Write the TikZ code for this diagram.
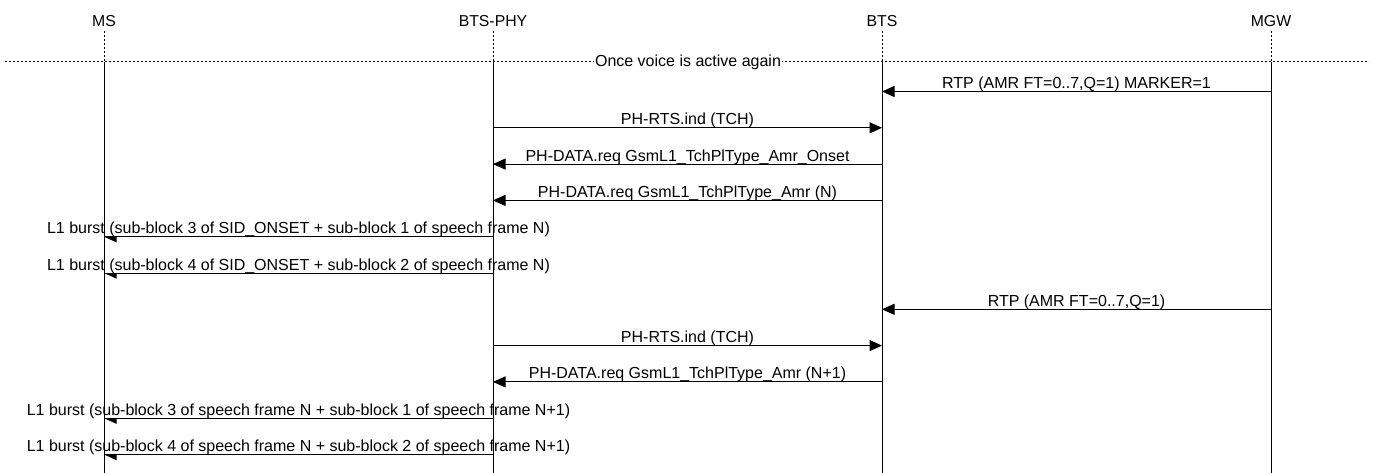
\documentclass[tikz,border=0pt]{standalone}
\usepackage{fontspec}
\setmainfont{Liberation Sans}
\usetikzlibrary{arrows.meta}

\tikzset{
  entity/.style={inner sep=1pt, font=\fontsize{15.8pt}{16pt}\selectfont},
  lifeline/.style={line width=1pt, black},
  dotline/.style={line width=1pt, black, dash pattern=on 2pt off 2pt},
  msg/.style={line width=1pt, black, -{Triangle[length=12.5pt, width=11pt]}},
  msglabel/.style={midway, anchor=base, yshift=3pt, fill=white, inner xsep=1pt, inner ysep=2.5pt, text depth=0pt, font=\fontsize{16pt}{16pt}\selectfont},
  seplabel/.style={fill=white, inner xsep=1pt, inner ysep=1pt, font=\fontsize{16pt}{16pt}\selectfont}
}

\begin{document}
\begin{tikzpicture}[x=1pt, y=-1pt]
            \useasboundingbox (0,0) rectangle (1376,473);
            % entities
            \node [entity] (ms) at (104,21) {MS};
            \node [entity] (phy) at (493,21) {BTS-PHY};
            \node [entity] (bts) at (882,21) {BTS};
            \node [entity] (mgw) at (1271,21) {MGW};
            % rows
            \foreach \i in {1,...,11} \coordinate (r\i) at (0,{91.5+36.3*(\i-1)});
            \coordinate (bottom) at (0,473);
            % separator
            \coordinate (sepl) at (5,62);
            \coordinate (sepr) at (1369,62);
            \draw [dotline] (sepl) -- (sepr);
            \node [seplabel] (sep) at (688,62) {Once voice is active again};
            % voice again
            \draw [msg] (mgw |- r1) -- node [msglabel] {RTP (AMR FT=0..7,Q=1) MARKER=1} (bts |- r1);
            \draw [msg] (phy |- r2) -- node [msglabel] {PH-RTS.ind (TCH)} (bts |- r2);
            \draw [msg] (bts |- r3) -- node [msglabel] {PH-DATA.req GsmL1\_TchPlType\_Amr\_Onset} (phy |- r3);
            \draw [msg] (bts |- r4) -- node [msglabel] {PH-DATA.req GsmL1\_TchPlType\_Amr (N)} (phy |- r4);
            \draw [msg] (phy |- r5) -- node [msglabel] {L1 burst (sub-block 3 of SID\_ONSET + sub-block 1 of speech frame N)} (ms |- r5);
            \draw [msg] (phy |- r6) -- node [msglabel] {L1 burst (sub-block 4 of SID\_ONSET + sub-block 2 of speech frame N)} (ms |- r6);
            % next frame
            \draw [msg] (mgw |- r7) -- node [msglabel] {RTP (AMR FT=0..7,Q=1)} (bts |- r7);
            \draw [msg] (phy |- r8) -- node [msglabel] {PH-RTS.ind (TCH)} (bts |- r8);
            \draw [msg] (bts |- r9) -- node [msglabel] {PH-DATA.req GsmL1\_TchPlType\_Amr (N+1)} (phy |- r9);
            \draw [msg] (phy |- r10) -- node [msglabel] {L1 burst (sub-block 3 of speech frame N + sub-block 1 of speech frame N+1)} (ms |- r10);
            \draw [msg] (phy |- r11) -- node [msglabel] {L1 burst (sub-block 4 of speech frame N + sub-block 2 of speech frame N+1)} (ms |- r11);
            % lifelines
            \foreach \e in {ms,phy,bts,mgw} {
              \draw [dotline] ([yshift=-3pt]\e.south) -- (\e |- sepl);
              \draw [lifeline] (\e |- sepl) -- (\e |- bottom);
            }
         \end{tikzpicture}
\end{document}
